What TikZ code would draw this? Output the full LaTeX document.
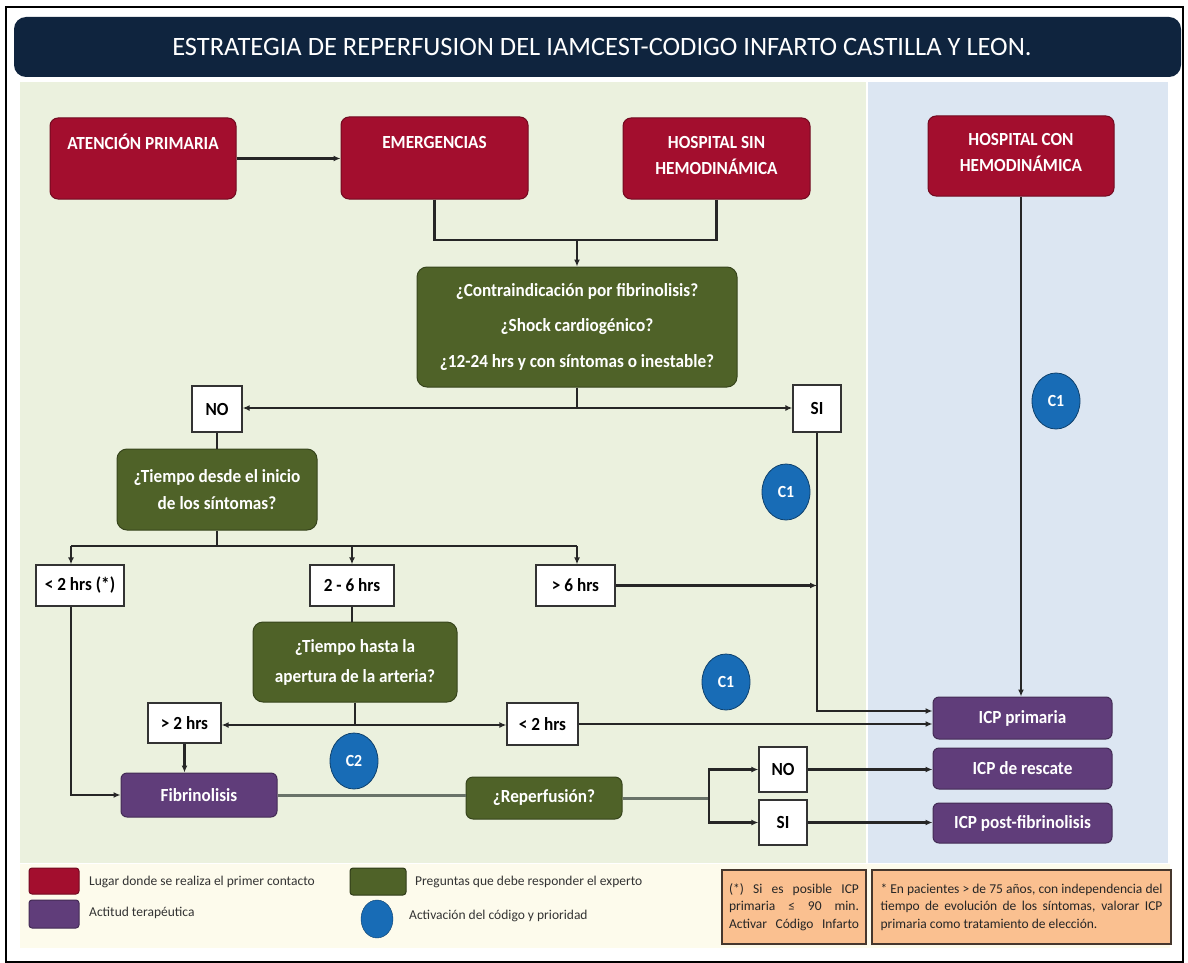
\documentclass[tikz,border=0pt]{standalone}
\usepackage{fontspec}
\setmainfont{Carlito}[FakeStretch=0.93]
\newfontfamily\plainf{Carlito}
\newfontfamily\titlef{Carlito}
\usetikzlibrary{shapes.geometric,arrows.meta}
\definecolor{crim}{RGB}{163,14,46}
\definecolor{oliv}{RGB}{79,98,40}
\definecolor{purp}{RGB}{96,61,122}
\definecolor{cblu}{RGB}{24,108,182}
\definecolor{navy}{RGB}{15,36,62}
\definecolor{gpan}{RGB}{235,241,222}
\definecolor{bpan}{RGB}{220,230,242}
\definecolor{cream}{RGB}{253,251,236}
\definecolor{peach}{RGB}{250,192,144}
\definecolor{notedraw}{RGB}{70,55,45}
\definecolor{grayln}{RGB}{105,115,105}
\newcommand\hdr{\fontsize{18.5}{26}\selectfont\bfseries}
\tikzset{
  redbox/.style={draw=crim!70!black, fill=crim, rounded corners=8pt, line width=1pt, inner sep=0pt},
  hdrtext/.style={text=white, font=\hdr, inner sep=0pt, align=center},
  greenbox/.style={draw=oliv!70!black, fill=oliv, rounded corners=10pt, line width=1pt, inner sep=0pt, text=white, align=center},
  purpbox/.style={draw=purp!70!black, fill=purp, rounded corners=6pt, line width=1pt, inner sep=0pt, text=white, font=\hdr},
  wbox/.style={draw=black!80, fill=white, line width=1.3pt, inner sep=0pt, font=\hdr},
  circ/.style={ellipse, fill=cblu, draw=cblu!60!black, line width=0.8pt, minimum width=48pt, minimum height=56pt, inner sep=0pt, text=white, font=\fontsize{17}{19}\selectfont\bfseries},
  conn/.style={line width=2.1pt, draw=black!85},
  arr/.style={conn, -{Latex[length=7pt,width=6pt]}},
  grayline/.style={line width=3pt, draw=grayln},
  swatch/.style={rounded corners=3pt, line width=1pt, inner sep=0pt},
  legtext/.style={anchor=west, inner sep=0pt, font=\plainf\fontsize{13.5}{16}\selectfont, text=black!80},
  note/.style={fill=peach, draw=notedraw, line width=1.8pt, inner sep=0pt, align=left, font=\plainf\fontsize{13.5}{17.5}\selectfont, text=black!85}
}
\begin{document}
\begin{tikzpicture}[x=1pt,y=-1pt]
\useasboundingbox (0,0) rectangle (1188,963);
\fill[white] (0,0) rectangle (1188,963);
% panels
\fill[gpan] (20,82) rectangle (866,863);
\fill[bpan] (868,82) rectangle (1168,863);
\fill[cream] (20,864) rectangle (1170,948);
\draw[line width=2pt] (6,7) rectangle (1183,962);
% title
\fill[navy, rounded corners=12pt] (14,17) rectangle (1181,77);
\node[text=white, inner sep=0pt, font=\titlef\fontsize{26.5}{30}\selectfont] (title) at (602,47) {ESTRATEGIA DE REPERFUSION DEL IAMCEST-CODIGO INFARTO CASTILLA Y LEON.};

% red boxes
\node[redbox, minimum width=186pt, minimum height=81pt] (AP) at (143,158.5) {};
\node[hdrtext] (tAP) at (143,142) {ATENCIÓN PRIMARIA};
\node[redbox, minimum width=187pt, minimum height=82pt] (EM) at (434.5,158) {};
\node[hdrtext] (tEM) at (434.5,142) {EMERGENCIAS};
\node[redbox, minimum width=187pt, minimum height=81pt] (HS) at (716.5,158.5) {};
\node[hdrtext] (tHS) at (716.5,155) {HOSPITAL SIN\\HEMODINÁMICA};
\node[redbox, minimum width=186pt, minimum height=80pt] (HC) at (1021,156) {};
\node[hdrtext] (tHC) at (1021,152) {HOSPITAL CON\\HEMODINÁMICA};

% green questions
\node[greenbox, minimum width=320pt, minimum height=120pt, font=\fontsize{18.5}{35.5}\selectfont\bfseries] (G1) at (577,327) {¿Contraindicación por fibrinolisis?\\¿Shock cardiogénico?\\¿12-24 hrs y con síntomas o inestable?};
\node[greenbox, minimum width=200pt, minimum height=81pt, font=\fontsize{18.5}{27}\selectfont\bfseries] (G2) at (217,489.5) {¿Tiempo desde el inicio\\de los síntomas?};
\node[greenbox, minimum width=204pt, minimum height=80pt, font=\fontsize{18.5}{30}\selectfont\bfseries] (G3) at (355,662) {¿Tiempo hasta la\\apertura de la arteria?};
\node[greenbox, minimum width=156pt, minimum height=42pt, rounded corners=7pt, font=\hdr] (RP) at (544,798) {¿Reperfusión?};

% white boxes
\node[wbox, minimum width=50pt, minimum height=46pt] (NO) at (217,409) {NO};
\node[wbox, minimum width=48pt, minimum height=47pt] (SI) at (817,408.5) {SI};
\node[wbox, minimum width=88pt, minimum height=41pt] (B1) at (80,585.5) {< 2 hrs (*)};
\node[wbox, minimum width=84pt, minimum height=41pt] (B2) at (352,585.5) {2 - 6 hrs};
\node[wbox, minimum width=79pt, minimum height=41pt] (B3) at (575.5,585.5) {> 6 hrs};
\node[wbox, minimum width=73pt, minimum height=40pt] (B4) at (184.5,723) {> 2 hrs};
\node[wbox, minimum width=71pt, minimum height=42pt] (B5) at (542.5,724) {< 2 hrs};
\node[wbox, minimum width=48pt, minimum height=45pt] (NO2) at (783,769.5) {NO};
\node[wbox, minimum width=48pt, minimum height=45pt] (SI2) at (783,822.5) {SI};

% purple boxes
\node[purpbox, minimum width=156pt, minimum height=44pt] (FB) at (199,795) {Fibrinolisis};
\node[purpbox, minimum width=179pt, minimum height=42pt] (ICP1) at (1022.5,718) {ICP primaria};
\node[purpbox, minimum width=179pt, minimum height=41pt] (ICP2) at (1022.5,768.5) {ICP de rescate};
\node[purpbox, minimum width=179pt, minimum height=40pt] (ICP3) at (1022.5,823) {ICP post-fibrinolisis};

% circles
\node[circ] (C1a) at (1056,401) {C1};
\node[circ] (C1b) at (786,492) {C1};
\node[circ] (C1c) at (726,682) {C1};
\node[circ] (C2) at (354,761) {C2};

% connectors
\draw[arr] (AP.east) -- (AP.east -| EM.west);
\coordinate (j1) at (577,240);
\draw[conn] (EM.south) |- (j1) -| (HS.south);
\draw[arr] (j1) -- (G1.north);
\coordinate (j2) at (577,408);
\draw[conn] (G1.south) -- (j2);
\draw[arr] (j2) -- (j2 -| NO.east);
\draw[arr] (j2) -- (j2 -| SI.west);
\draw[conn] (NO.south) -- (G2.north);
\coordinate (j3) at (217,546);
\coordinate (bl) at (71,546);
\coordinate (br) at (577,546);
\draw[conn] (G2.south) -- (j3);
\draw[conn] (bl) -- (br);
\draw[arr] (bl) -- (bl |- B1.north);
\draw[arr] (B2.north |- j3) -- (B2.north);
\draw[arr] (br) -- (br |- B3.north);
\draw[arr] (B3.east) -- (B3.east -| SI.south);
\draw[arr] (SI.south) |- ([yshift=7pt]ICP1.west);
\draw[arr] (B5.east) -- (B5.east -| ICP1.west);
\draw[arr] (HC.south) -- (HC.south |- ICP1.north);
\draw[conn] (B2.south) -- (B2.south |- G3.north);
\coordinate (j4) at (355,725);
\draw[conn] (G3.south) -- (j4);
\draw[arr] (j4) -- (j4 -| B4.east);
\draw[arr] (j4) -- (j4 -| B5.west);
\draw[arr] (B4.south) -- (B4.south |- FB.north);
\draw[arr] (bl |- B1.south) |- (FB.west);
\draw[grayline] (FB.east) -- (FB.east -| RP.west);
\coordinate (j5) at (709,798);
\draw[grayline] (RP.east) -- (j5);
\draw[arr] (j5) |- (NO2.west);
\draw[arr] (j5) |- (SI2.west);
\draw[arr] (NO2.east) -- (NO2.east -| ICP2.west);
\draw[arr] (SI2.east) -- (SI2.east -| ICP3.west);

% legend
\node[swatch, fill=crim, draw=crim!70!black, minimum width=50pt, minimum height=26pt] (lgR) at (54,881) {};
\node[legtext] (lgRt) at (89,882) {Lugar donde se realiza el primer contacto};
\node[swatch, fill=purp, draw=purp!70!black, minimum width=50pt, minimum height=28pt] (lgP) at (54,914) {};
\node[legtext] (lgPt) at (89,913) {Actitud terapéutica};
\node[swatch, fill=oliv, draw=oliv!60!black, minimum width=56pt, minimum height=27pt] (lgG) at (378,881.5) {};
\node[legtext] (lgGt) at (415,882) {Preguntas que debe responder el experto};
\node[ellipse, fill=cblu, draw=cblu!60!black, minimum width=32pt, minimum height=38pt, inner sep=0pt] (lgC) at (377,919) {};
\node[legtext] (lgCt) at (409,916) {Activación del código y prioridad};

% notes
\node[note, minimum width=144pt, minimum height=74pt] (n1) at (794,907) {\makebox[130pt][s]{(*) Si es posible ICP}\\\makebox[130pt][s]{primaria ≤ 90 min.}\\\makebox[130pt][s]{Activar Código Infarto}};
\node[note, minimum width=299pt, minimum height=74pt] (n2) at (1021.5,907) {\makebox[282pt][s]{* En pacientes > de 75 años, con independencia del}\\\makebox[282pt][s]{tiempo de evolución de los síntomas, valorar ICP}\\\makebox[282pt][l]{primaria como tratamiento de elección.}};
\end{tikzpicture}
\end{document}
